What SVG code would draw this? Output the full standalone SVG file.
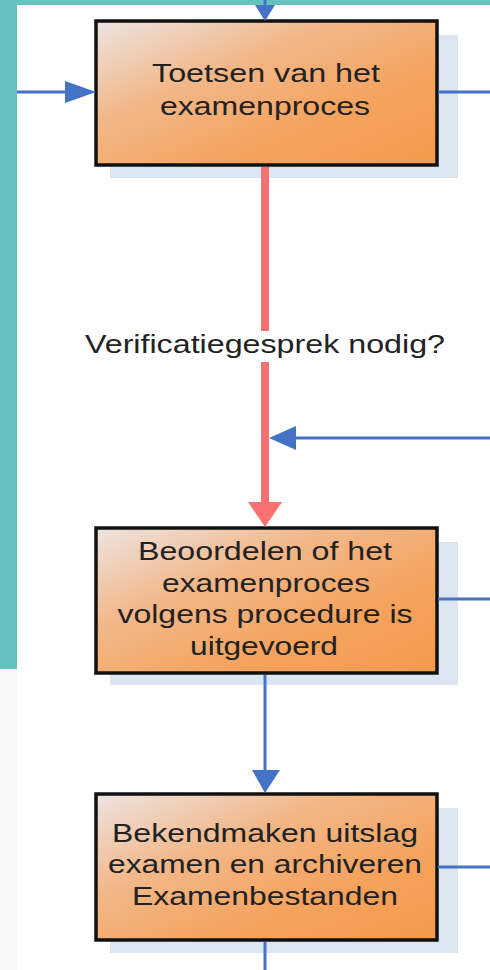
<svg xmlns="http://www.w3.org/2000/svg" width="490" height="970" viewBox="0 0 490 970">
<defs>
<linearGradient id="og" x1="0" y1="0" x2="1" y2="1">
<stop offset="0" stop-color="#EDE4E2"/>
<stop offset="0.35" stop-color="#F2B788"/>
<stop offset="0.7" stop-color="#F5A25C"/>
<stop offset="1" stop-color="#F39B4E"/>
</linearGradient>
</defs>
<style>
.sh{fill:#DCE6F2}
.bx{fill:url(#og);stroke:#111;stroke-width:3.5}
.t{font-family:"Liberation Sans",Arial,sans-serif;font-size:25px;fill:#222;text-anchor:middle}
.bl{stroke:#4472C4;stroke-width:3;fill:none}
.bh{fill:#4472C4}
.rd{stroke:#F87172;stroke-width:8;fill:none}
.rh{fill:#F87172}
</style>
<rect width="490" height="970" fill="#FFFFFF"/>
<rect x="0" y="0" width="490" height="5" fill="#66C2BE"/>
<rect x="0" y="0" width="17" height="669" fill="#66C2BE"/>
<rect x="0" y="669" width="17" height="301" fill="#FAFAFA"/>

<g id="node-toetsen">
<rect class="sh" x="110" y="35" width="348" height="143"/>
<rect class="bx" x="96" y="21" width="341" height="144"/>
<text class="t" x="266" y="82" textLength="228" lengthAdjust="spacingAndGlyphs">Toetsen van het</text>
<text class="t" x="265" y="115" textLength="210" lengthAdjust="spacingAndGlyphs">examenproces</text>
</g>

<g id="node-beoordelen">
<rect class="sh" x="110" y="542" width="348" height="143"/>
<rect class="bx" x="96" y="528" width="341" height="145"/>
<text class="t" x="265" y="560" textLength="254" lengthAdjust="spacingAndGlyphs">Beoordelen of het</text>
<text class="t" x="266" y="592" textLength="208" lengthAdjust="spacingAndGlyphs">examenproces</text>
<text class="t" x="265" y="623" textLength="295" lengthAdjust="spacingAndGlyphs">volgens procedure is</text>
<text class="t" x="264" y="655" textLength="148" lengthAdjust="spacingAndGlyphs">uitgevoerd</text>
</g>

<g id="node-bekendmaken">
<rect class="sh" x="110" y="808" width="348" height="145"/>
<rect class="bx" x="96" y="794" width="341" height="146"/>
<text class="t" x="265" y="842" textLength="306" lengthAdjust="spacingAndGlyphs">Bekendmaken uitslag</text>
<text class="t" x="265" y="873" textLength="314" lengthAdjust="spacingAndGlyphs">examen en archiveren</text>
<text class="t" x="265" y="905" textLength="266" lengthAdjust="spacingAndGlyphs">Examenbestanden</text>
</g>

<g id="connectors">
<line class="bl" x1="265" y1="0" x2="265" y2="10"/>
<polygon class="bh" points="255,5 275,5 265,21"/>
<line class="bl" x1="17" y1="92" x2="70" y2="92"/>
<polygon class="bh" points="65,81 96,92 65,103"/>
<line class="bl" x1="438" y1="92" x2="490" y2="92"/>
<line class="rd" x1="265" y1="167" x2="265" y2="331"/>
<line class="rd" x1="265" y1="362" x2="265" y2="505"/>
<polygon class="rh" points="248,502 282,502 265,527"/>
<line class="bl" x1="490" y1="438" x2="290" y2="438"/>
<polygon class="bh" points="296,426 269,438 296,450"/>
<line class="bl" x1="438" y1="599" x2="490" y2="599"/>
<line class="bl" x1="265" y1="675" x2="265" y2="775"/>
<polygon class="bh" points="252,770 280,770 265,793"/>
<line class="bl" x1="438" y1="867" x2="490" y2="867"/>
<line class="bl" x1="265" y1="942" x2="265" y2="970"/>
<text class="t" x="265" y="353" textLength="360" lengthAdjust="spacingAndGlyphs">Verificatiegesprek nodig?</text>
</g>
</svg>
